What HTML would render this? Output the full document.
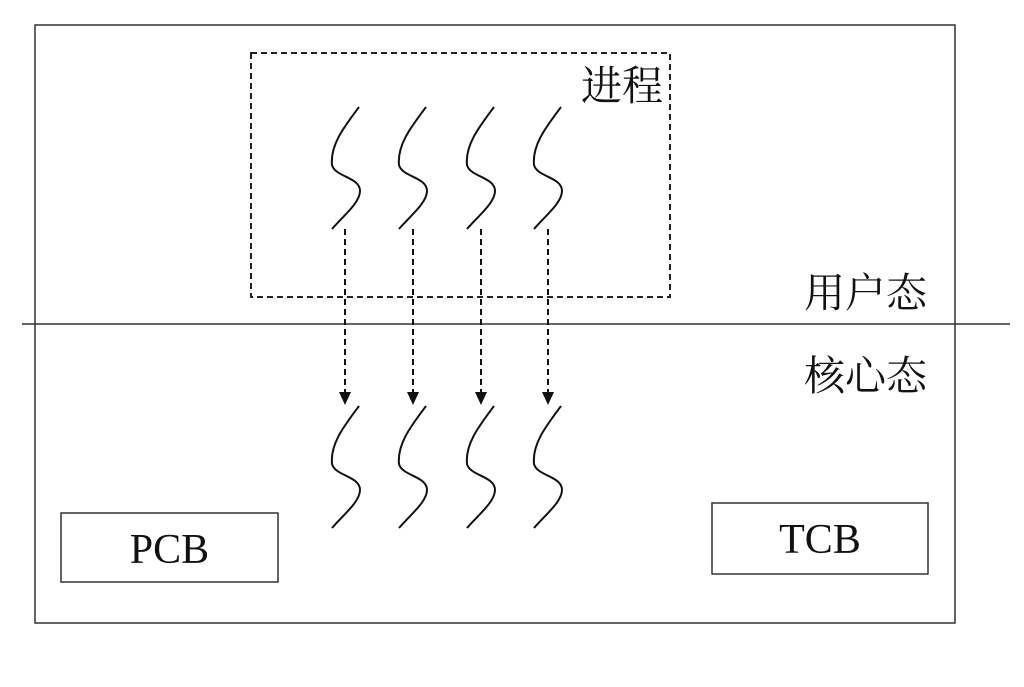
<!DOCTYPE html>
<html><head><meta charset="utf-8"><style>
body{margin:0;background:#fff;}
text{font-family:"Liberation Serif","Noto Serif CJK SC",serif;fill:#111;}
</style></head><body>
<svg width="1024" height="682" viewBox="0 0 1024 682" xmlns="http://www.w3.org/2000/svg">
<defs>
<path id="sq" d="M27 0 C12 20 -2 38 0 58 C3 70 28 70 28 84 C28 96 10 110 0 122" fill="none" stroke="#111" stroke-width="2"/>
</defs>
<rect x="35" y="25" width="920" height="598" fill="none" stroke="#333" stroke-width="1.5"/>
<line x1="22" y1="324" x2="1010" y2="324" stroke="#333" stroke-width="1.5"/>
<rect x="251" y="53" width="419" height="244" fill="none" stroke="#222" stroke-width="2" stroke-dasharray="6,4"/>
<text x="581" y="100" font-size="41">进程</text>
<text x="804" y="307" font-size="41">用户态</text>
<text x="804" y="390" font-size="41">核心态</text>
<g>
<use href="#sq" x="332" y="107"/><use href="#sq" x="399" y="107"/><use href="#sq" x="467" y="107"/><use href="#sq" x="534" y="107"/>
<use href="#sq" x="332" y="406"/><use href="#sq" x="399" y="406"/><use href="#sq" x="467" y="406"/><use href="#sq" x="534" y="406"/>
</g>
<g stroke="#111" stroke-width="2" stroke-dasharray="6,4">
<line x1="345" y1="229" x2="345" y2="392"/><line x1="413" y1="229" x2="413" y2="392"/><line x1="481" y1="229" x2="481" y2="392"/><line x1="548" y1="229" x2="548" y2="392"/>
</g>
<g fill="#111">
<polygon points="339,392 351,392 345,405"/><polygon points="407,392 419,392 413,405"/><polygon points="475,392 487,392 481,405"/><polygon points="542,392 554,392 548,405"/>
</g>
<rect x="61" y="513" width="217" height="69" fill="none" stroke="#333" stroke-width="1.5"/>
<text x="169.5" y="563" font-size="42" text-anchor="middle">PCB</text>
<rect x="712" y="503" width="216" height="71" fill="none" stroke="#333" stroke-width="1.5"/>
<text x="820" y="553" font-size="42" text-anchor="middle">TCB</text>
</svg>
</body></html>
